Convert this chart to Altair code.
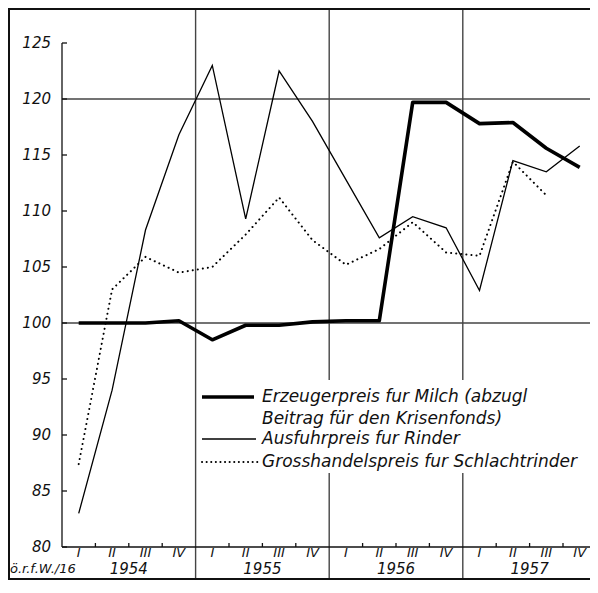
import altair as alt
import pandas as pd

# ---- data (quarters 1954-I .. 1957-IV) ----
quarter_idx = list(range(16))
quarter_labels = ["I", "II", "III", "IV"] * 4
years = ["1954", "1955", "1956", "1957"]

milk = [100.0, 100.0, 100.0, 100.2, 98.5, 99.8, 99.8, 100.1,
        100.2, 100.2, 119.7, 119.7, 117.8, 117.9, 115.6, 113.9]
ausfuhr = [83.0, 94.0, 108.3, 116.8, 123.0, 109.3, 122.5, 118.0,
           112.8, 107.6, 109.5, 108.5, 102.9, 114.5, 113.5, 115.8]
gross = [87.4, 103.0, 105.9, 104.5, 105.0, 107.9, 111.2, 107.4,
         105.2, 106.6, 109.0, 106.3, 106.0, 114.4, 111.4, None]

y_ticks = [80, 85, 90, 95, 100, 105, 110, 115, 120, 125]
grid_values = [100, 120]
year_bounds = [4, 8, 12]

legend_labels = ["Erzeugerpreis fur Milch (abzugl",
                 "Beitrag für den Krisenfonds)",
                 "Ausfuhrpreis fur Rinder",
                 "Grosshandelspreis fur Schlachtrinder"]
source_note = "ö.r.f.W./16"

# ---- geometry ----
W, H = 582, 572
PX_Q = 33.4      # pixels per quarter
PX_U = 11.2      # pixels per index point
AX = 54          # pixel position of the y axis
x_dom = [-AX / PX_Q, (W - AX) / PX_Q]
y_top = 125 + 35 / PX_U
y_dom = [y_top - H / PX_U, y_top]
xs = alt.Scale(domain=x_dom, nice=False, zero=False)
ys = alt.Scale(domain=y_dom, nice=False, zero=False)
FONT = "DejaVu Sans"

def X(f):
    return alt.X(f, type="quantitative", scale=xs, axis=None)

def Y(f):
    return alt.Y(f, type="quantitative", scale=ys, axis=None)

pos = [q + 0.5 for q in quarter_idx]
df_m = pd.DataFrame({"x": pos, "y": milk})
df_a = pd.DataFrame({"x": pos, "y": ausfuhr})
df_g = pd.DataFrame({"x": pos, "y": gross}).dropna()

# ---- reference lines ----
gap_hi = 100 - (380 - 323) / PX_U
gap_lo = 100 - (473 - 323) / PX_U
rows = []
for g in grid_values:
    rows.append(dict(x=0, x2=16, y=g, y2=g))
for b in year_bounds:
    if b == 4:
        rows.append(dict(x=b, x2=b, y=y_dom[0], y2=y_dom[1]))
    else:
        rows.append(dict(x=b, x2=b, y=gap_hi, y2=y_dom[1]))
        rows.append(dict(x=b, x2=b, y=y_dom[0], y2=gap_lo))
df_rules = pd.DataFrame(rows)
rules = alt.Chart(df_rules).mark_rule(color="#444", strokeWidth=1.4).encode(
    x=X("x"), x2="x2", y=Y("y"), y2="y2")

axis_rows = [dict(x=0, x2=0, y=80, y2=125), dict(x=0, x2=16, y=80, y2=80)]
for t in y_ticks:
    axis_rows.append(dict(x=0, x2=5 / PX_Q, y=t, y2=t))
for q in range(1, 16):
    if q not in year_bounds:
        axis_rows.append(dict(x=q, x2=q, y=80, y2=80 + 4 / PX_U))
df_axis = pd.DataFrame(axis_rows)
axis_lines = alt.Chart(df_axis).mark_rule(color="#111", strokeWidth=1.3).encode(
    x=X("x"), x2="x2", y=Y("y"), y2="y2")

# y tick labels
df_yt = pd.DataFrame({"v": y_ticks, "t": [str(v) for v in y_ticks]})
ytl = alt.Chart(df_yt).mark_text(font=FONT, fontStyle="italic", fontSize=15,
                                 color="#111", align="right", baseline="middle").encode(
    x=alt.value(AX - 11), y=Y("v"), text="t:N")

# ---- data lines ----
line_m = alt.Chart(df_m).mark_line(color="#000", strokeWidth=3.6, strokeJoin="round").encode(
    x=X("x"), y=Y("y"))
line_a = alt.Chart(df_a).mark_line(color="#000", strokeWidth=1.3).encode(
    x=X("x"), y=Y("y"))
line_g = alt.Chart(df_g).mark_line(color="#000", strokeWidth=2.0, strokeDash=[0.1, 5],
                                   strokeCap="round").encode(x=X("x"), y=Y("y"))

# ---- x labels ----
df_ql = pd.DataFrame({"x": pos, "t": quarter_labels})
qlab = alt.Chart(df_ql).mark_text(font=FONT, fontStyle="italic", fontSize=13,
                                  color="#111", baseline="middle").encode(
    x=X("x"), y=alt.value(545), text="t:N")
df_yl = pd.DataFrame({"x": [4 * i + 2 for i in range(4)], "t": years})
ylab = alt.Chart(df_yl).mark_text(font=FONT, fontStyle="italic", fontSize=15,
                                  color="#111", baseline="middle").encode(
    x=X("x"), y=alt.value(561), text="t:N")
note = alt.Chart(pd.DataFrame({"t": [source_note]})).mark_text(
    font=FONT, fontStyle="italic", fontSize=13, color="#111", align="left",
    baseline="middle").encode(x=alt.value(2), y=alt.value(561), text="t:N")

# ---- frame ----
one = pd.DataFrame({"a": [0]})
frame = [
    alt.Chart(one).mark_rule(color="#111", strokeWidth=2).encode(
        x=alt.value(1), y=alt.value(0), y2=alt.value(H)),
    alt.Chart(one).mark_rule(color="#111", strokeWidth=2).encode(
        x=alt.value(0), x2=alt.value(W), y=alt.value(1)),
    alt.Chart(one).mark_rule(color="#111", strokeWidth=2).encode(
        x=alt.value(0), x2=alt.value(W), y=alt.value(H - 1)),
]

# ---- legend ----
leg_y = [389, 411, 431, 454]
leg = []
for i, t in enumerate(legend_labels):
    leg.append(alt.Chart(pd.DataFrame({"t": [t]})).mark_text(
        font=FONT, fontStyle="italic", fontSize=17, color="#111", align="left",
        baseline="middle").encode(x=alt.value(254), y=alt.value(leg_y[i]), text="t:N"))
leg.append(alt.Chart(one).mark_rule(color="#000", strokeWidth=3.6).encode(
    x=alt.value(194), x2=alt.value(246), y=alt.value(leg_y[0])))
leg.append(alt.Chart(one).mark_rule(color="#000", strokeWidth=1.3).encode(
    x=alt.value(194), x2=alt.value(248), y=alt.value(leg_y[2])))
leg.append(alt.Chart(one).mark_rule(color="#000", strokeWidth=2.0, strokeDash=[0.1, 4.5],
                                    strokeCap="round").encode(
    x=alt.value(194), x2=alt.value(251), y=alt.value(leg_y[3])))

chart = alt.layer(rules, axis_lines, ytl, line_a, line_g, line_m, qlab, ylab, note,
                  *frame, *leg).properties(
    width=W, height=H, padding=0,
    autosize=alt.AutoSizeParams(type="none"),
).configure_view(stroke=None).configure(background="white")

chart.save("out.html", embed_options={"renderer": "svg", "actions": False})
